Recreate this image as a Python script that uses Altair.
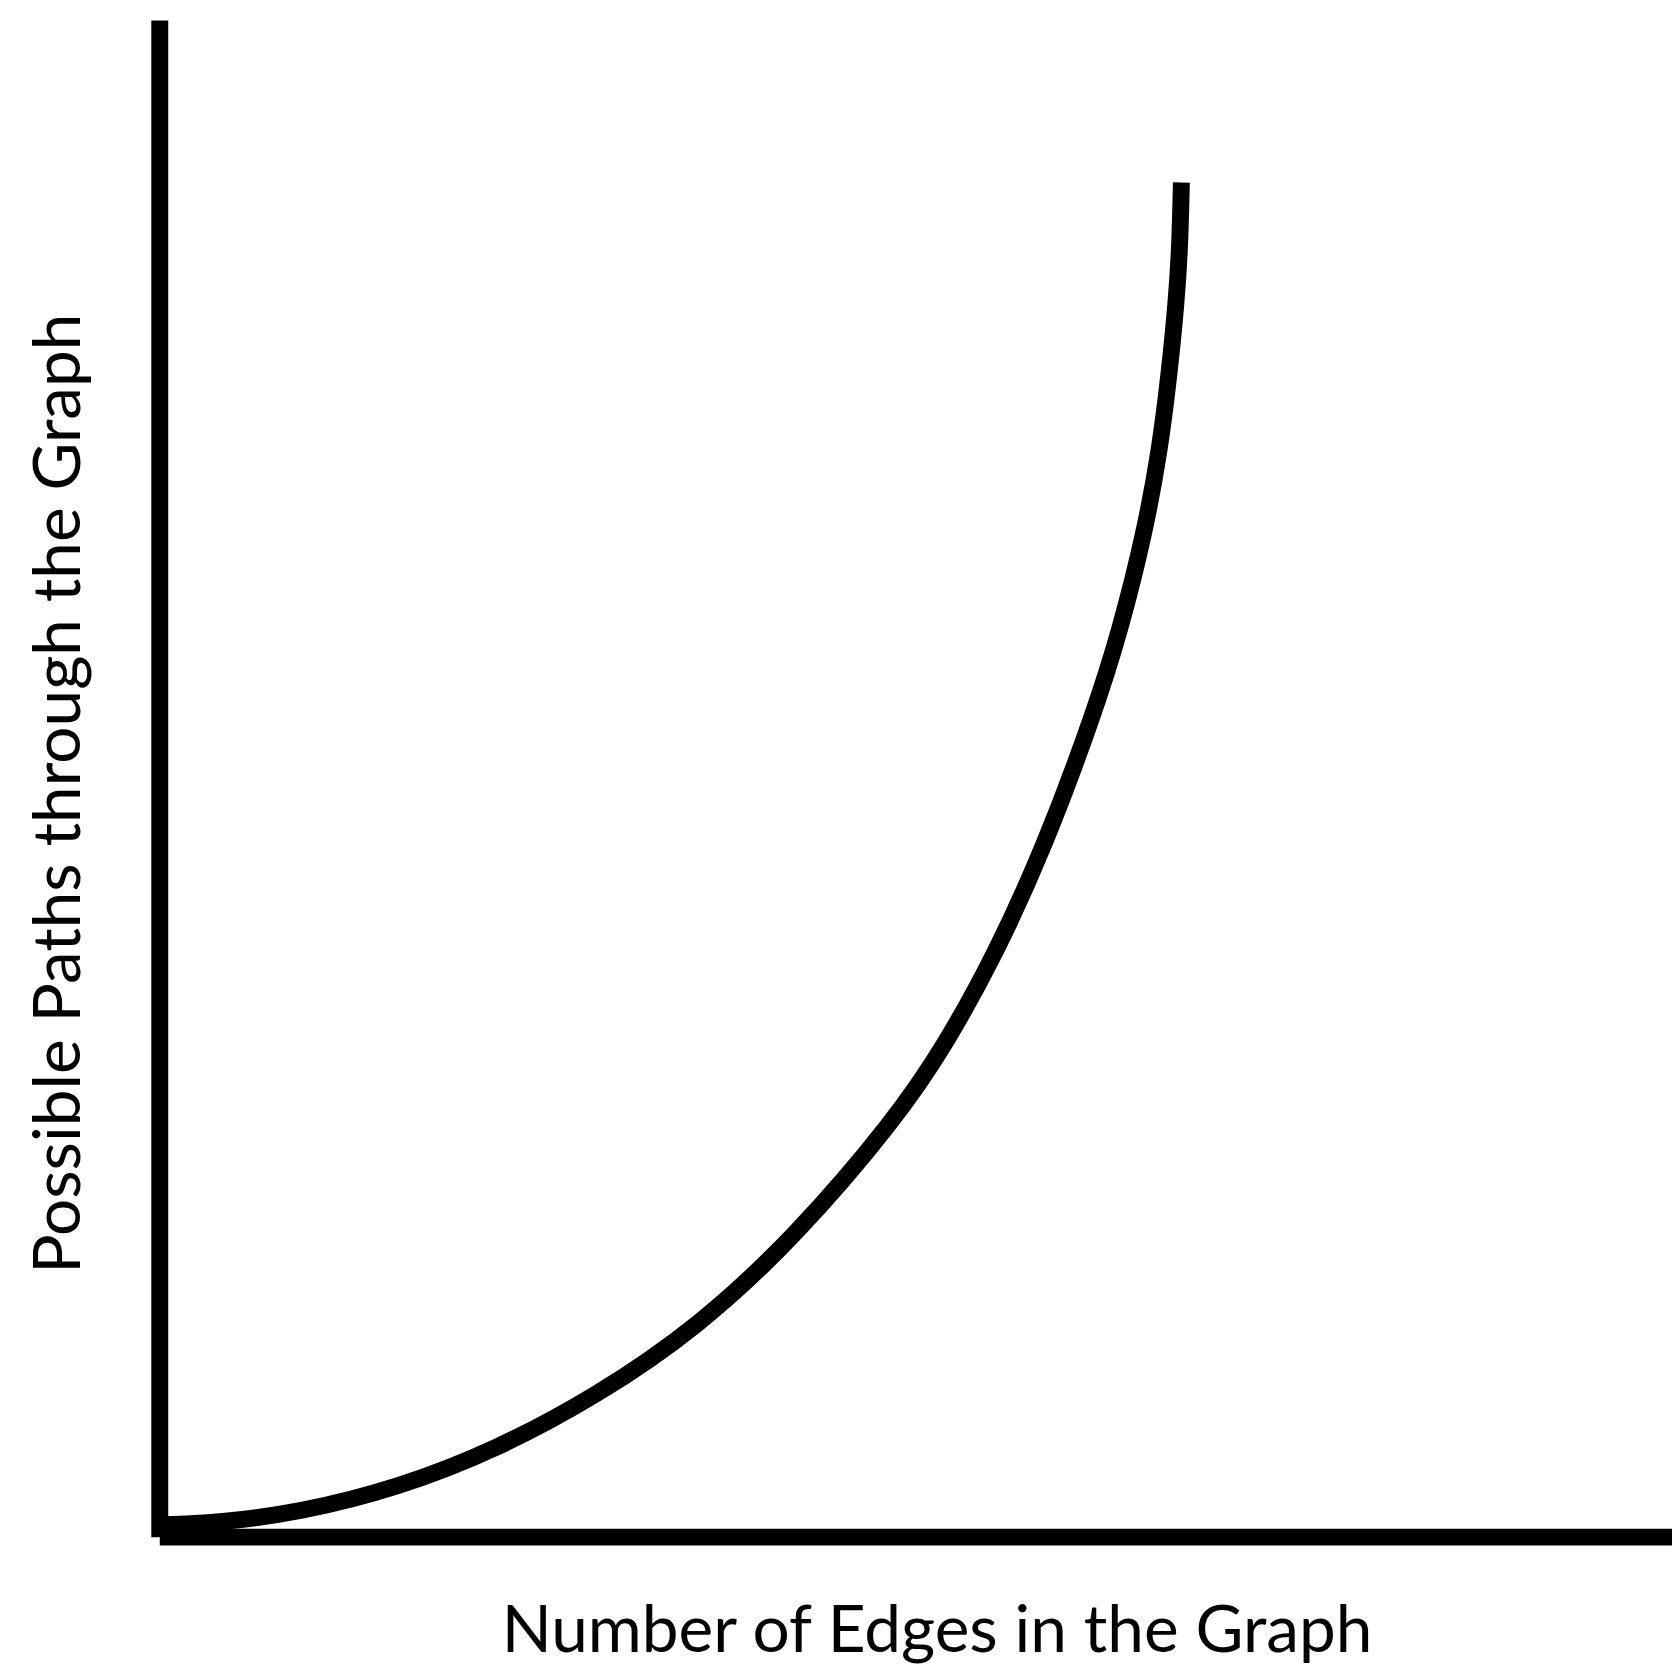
import altair as alt
import pandas as pd

# Conceptual curve: number of edges vs. possible paths
edges = [0.5, 5.8, 13.6, 23.4, 33.1, 42.8, 52.6, 62.3, 72.1, 76.9, 81.8,
         86.7, 91.5, 94.0, 96.4, 97.9, 98.8, 99.5, 99.85, 100.0]
paths = [0.88, 1.03, 1.76, 3.6, 6.47, 10.4, 15.4, 22.2, 30.9, 36.3, 43.0,
         51.1, 60.9, 66.9, 74.1, 80.3, 85.8, 91.1, 95.2, 100.0]

x_title = "Number of Edges in the Graph"
y_title = "Possible Paths through the Graph"

df = pd.DataFrame({"edges": edges, "paths": paths})

FONT = "Lato"

chart = (
    alt.Chart(df)
    .mark_line(color="black", strokeWidth=17, strokeCap="butt",
               interpolate="basis", clip=False)
    .encode(
        x=alt.X("edges:Q",
                scale=alt.Scale(domain=[0, 148], nice=False, zero=True),
                axis=alt.Axis(title=x_title, labels=False, ticks=False, grid=False,
                              domain=True, domainColor="black", domainWidth=17,
                              titleFont=FONT, titleFontSize=66,
                              titleFontWeight="normal", titleColor="black",
                              titleX=781, titleY=115, titleAlign="center",
                              titleBaseline="alphabetic")),
        y=alt.Y("paths:Q",
                scale=alt.Scale(domain=[0, 112], nice=False, zero=True),
                axis=alt.Axis(title=y_title, labels=False, ticks=False, grid=False,
                              domain=True, domainColor="black", domainWidth=17,
                              titleFont=FONT, titleFontSize=66,
                              titleFontWeight="normal", titleColor="black",
                              titleAngle=270,
                              titleX=-80, titleY=777, titleAlign="center",
                              titleBaseline="alphabetic")),
    )
    .properties(
        width=1520,
        height=1524,
        autosize=alt.AutoSizeParams(type="none"),
        padding={"left": 152, "top": 8, "right": 0, "bottom": 126},
        background="white",
    )
    .configure_view(stroke=None)
)

chart.save("out.html", embed_options={"renderer": "svg", "actions": False})
